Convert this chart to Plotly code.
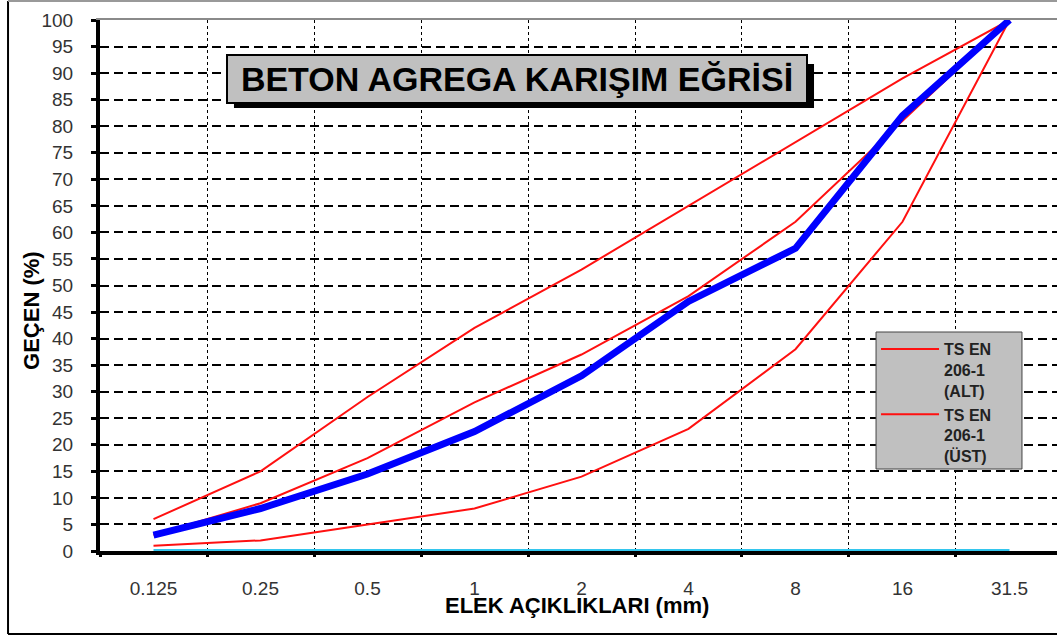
import plotly.graph_objects as go

# ---- data ----
sieves = ["0.125", "0.25", "0.5", "1", "2", "4", "8", "16", "31.5"]
mix = [3, 8, 14.5, 22.5, 33, 47, 57, 82, 100]
ts_alt = [1, 2, 5, 8, 14, 23, 38, 62, 100]
ts_ust = [6, 15, 29, 42, 53, 65, 77, 89, 100]
ts_mid = [3, 9, 17.5, 28, 37, 48, 62, 81, 100]
pan = [0, 0, 0, 0, 0, 0, 0, 0, 0]
y_ticks = [0, 5, 10, 15, 20, 25, 30, 35, 40, 45, 50, 55, 60, 65, 70, 75, 80, 85, 90, 95, 100]

pos = list(range(len(sieves)))
bounds = [i - 0.5 for i in range(len(sieves) + 1)]
xr = [-0.5, 8.444]

FONT = "Liberation Sans, Arial, sans-serif"

fig = go.Figure()
fig.add_trace(go.Scatter(x=pos, y=pan, mode="lines", line=dict(color="#33c6ee", width=4),
                         showlegend=False, hoverinfo="skip"))
fig.add_trace(go.Scatter(x=pos, y=ts_mid, mode="lines", line=dict(color="#ff1010", width=2),
                         showlegend=False))
fig.add_trace(go.Scatter(x=pos, y=ts_alt, mode="lines", line=dict(color="#ff1010", width=2),
                         name="TS EN<br>206-1<br>(ALT)"))
fig.add_trace(go.Scatter(x=pos, y=ts_ust, mode="lines", line=dict(color="#ff1010", width=2),
                         name="TS EN<br>206-1<br>(ÜST)"))
fig.add_trace(go.Scatter(x=pos, y=mix, mode="lines", line=dict(color="#0000ff", width=7),
                         showlegend=False))
# helper traces so overlay axes are drawn
fig.add_trace(go.Scatter(x=[None], y=[None], xaxis="x2", showlegend=False, hoverinfo="skip"))
fig.add_trace(go.Scatter(x=[None], y=[None], xaxis="x3", showlegend=False, hoverinfo="skip"))

fig.update_layout(
    width=1057, height=641,
    margin=dict(l=100, r=0, t=20, b=90),
    paper_bgcolor="white", plot_bgcolor="white",
    font=dict(family=FONT, color="#333"),
    xaxis=dict(range=xr, tickmode="array", tickvals=pos, ticktext=sieves,
               ticks="", showgrid=False, zeroline=False,
               showline=True, linecolor="black", linewidth=4,
               tickfont=dict(size=19, color="#333"), ticklabelstandoff=17),
    xaxis2=dict(range=xr, overlaying="x", anchor="y", side="bottom",
                tickmode="array", tickvals=bounds, ticktext=[""] * len(bounds),
                ticks="outside", ticklen=5, tickwidth=3, tickcolor="black",
                showgrid=True, gridcolor="black", gridwidth=1, griddash="dot",
                showline=False, zeroline=False),
    xaxis3=dict(range=xr, overlaying="x", anchor="y", side="top",
                showticklabels=False, ticks="", showgrid=False, zeroline=False,
                showline=True, linecolor="#8a8a8a", linewidth=2),
    yaxis=dict(range=[0, 100], tickmode="array", tickvals=y_ticks,
               ticks="outside", ticklen=5, tickwidth=3, tickcolor="black",
               showgrid=True, gridcolor="black", gridwidth=2, griddash="9px,5px",
               zeroline=False, showline=True, linecolor="black", linewidth=4,
               tickfont=dict(size=19, color="#333"), ticklabelstandoff=14),
    legend=dict(x=0.8109, y=0.4124, xanchor="left", yanchor="top",
                bgcolor="rgba(0,0,0,0)", borderwidth=0,
                font=dict(family=FONT, size=16, color="#222", weight="bold"),
                valign="top", itemwidth=58),
    showlegend=True,
)

# legend box
fig.add_shape(type="rect", xref="paper", yref="paper", x0=0.8109, x1=0.9634, y0=0.1544, y1=0.4124,
              fillcolor="#c0c0c0", line=dict(color="#444", width=1), layer="above")
# title drop shadow
fig.add_shape(type="rect", xref="paper", yref="paper", x0=0.1400, x1=0.7461, y0=0.8343, y1=0.9171,
              fillcolor="black", line=dict(color="black", width=0), layer="above")

# outer chart border
fig.add_shape(type="line", xref="paper", yref="paper", x0=-0.0961, x1=-0.0961, y0=-0.1563, y1=1.0358,
              line=dict(color="black", width=2))
fig.add_shape(type="line", xref="paper", yref="paper", x0=-0.0961, x1=1.05, y0=-0.1563, y1=-0.1563,
              line=dict(color="black", width=2))
fig.add_shape(type="line", xref="paper", yref="paper", x0=-0.0961, x1=1.05, y0=1.0358, y1=1.0358,
              line=dict(color="#999", width=2))

title_txt = "BETON AGREGA KARIŞIM EĞRİSİ"
fig.add_annotation(text=title_txt, xref="paper", yref="paper", x=0.4357, y=0.8889,
                   xanchor="center", yanchor="middle", showarrow=False,
                   width=576, height=44, bgcolor="#c0c0c0", bordercolor="black", borderwidth=2,
                   font=dict(family=FONT, size=34, color="black", weight="bold"))

fig.add_annotation(text="GEÇEN (%)", xref="paper", yref="paper", x=-0.0711, y=0.4539,
                   xanchor="center", yanchor="middle", showarrow=False, textangle=-90,
                   font=dict(family=FONT, size=22, color="black", weight="bold"))
fig.add_annotation(text="ELEK AÇIKLIKLARI (mm)", xref="paper", yref="paper", x=0.4984, y=-0.1017,
                   xanchor="center", yanchor="middle", showarrow=False,
                   font=dict(family=FONT, size=22, color="black", weight="bold"))

fig.write_html("out.html", config={"displayModeBar": False},
               post_script="document.body.style.margin='0px';document.body.style.overflow='hidden';")
